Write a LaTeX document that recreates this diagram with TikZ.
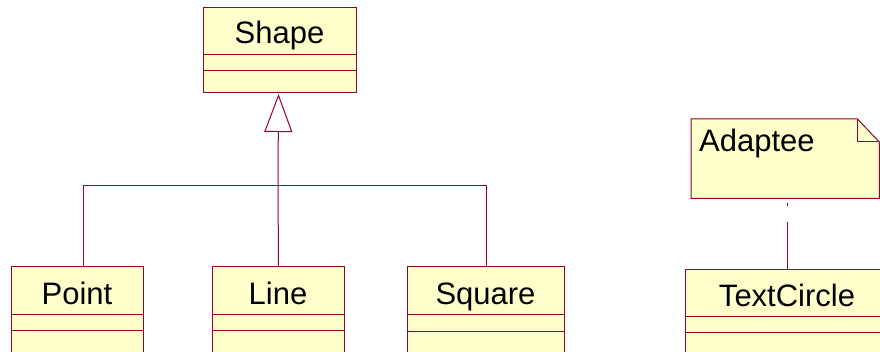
\documentclass[tikz,border=0pt]{standalone}
\usepackage{fontspec}
\setmainfont{Liberation Sans}
\usetikzlibrary{arrows.meta,calc}
\definecolor{lc}{RGB}{153,0,51}
\definecolor{fc}{RGB}{255,255,204}
\tikzset{
  cls/.style={draw=lc, fill=fc, line width=1pt, inner sep=0pt, anchor=north west},
  ttl/.style={font=\fontsize{31}{36}\selectfont, inner sep=0pt, anchor=base},
  comp/.style={draw=lc, line width=1pt},
  conn/.style={draw=lc, line width=1pt},
  inh/.style={conn, -{Triangle[open, length=38pt, width=28pt, line width=1pt]}},
}
\begin{document}
\begin{tikzpicture}[x=1pt,y=-1pt]
\useasboundingbox (0,0) rectangle (880,352);
% Shape
\node[cls, minimum width=153pt, minimum height=85pt] (shape) at (203,7) {};
\node[ttl] (shapeT) at (279.5,44) {Shape};
\draw[comp] (203,55) -- (356,55) (203,71) -- (356,71);
% Point
\node[cls, minimum width=132pt, minimum height=86pt] (point) at (11,266) {};
\node[ttl] (pointT) at (77,305) {Point};
\draw[comp] (11,315) -- (143,315) (11,330) -- (143,330);
% Line
\node[cls, minimum width=132pt, minimum height=86pt] (line) at (212,266) {};
\node[ttl] (lineT) at (278,305) {Line};
\draw[comp] (212,315) -- (344,315) (212,330) -- (344,330);
% Square
\node[cls, minimum width=157pt, minimum height=86pt] (square) at (407,266) {};
\node[ttl] (squareT) at (485.5,305) {Square};
\draw[comp] (407,315) -- (564,315) (407,331) -- (564,331);
% TextCircle
\node[cls, minimum width=204pt, minimum height=86pt] (tc) at (685,269) {};
\node[ttl] (tcT) at (787,307) {TextCircle};
\draw[comp] (685,317) -- (889,317) (685,332) -- (889,332);
% Note
\node[inner sep=0pt, minimum width=188pt, minimum height=79pt, anchor=north west] (adaptee) at (691,119) {};
\draw[conn, fill=fc] (adaptee.north west) -- ($(adaptee.north east)+(-22,0)$) -- ($(adaptee.north east)+(0,23)$) -- (adaptee.south east) -- (adaptee.south west) -- cycle;
\draw[conn] ($(adaptee.north east)+(-22,0)$) -- ($(adaptee.north east)+(-22,23)$) -- ($(adaptee.north east)+(0,23)$);
\node[font=\fontsize{31}{36}\selectfont, inner sep=0pt, anchor=base west] (adapteeT) at (699,152) {Adaptee};
% Inheritance
\coordinate (j) at (278,186);
\coordinate (pc) at (83,266);
\draw[conn] (pc) |- (j);
\draw[conn] (square.north) |- (j);
\draw[conn] (line.north) -- (j);
\draw[inh] (j) -- ($(shape.south)+(-1.5,1)$);
% Note link
\draw[conn, dash pattern=on 0pt off 5pt on 3pt off 16pt on 60pt] ($(adaptee.south west)+(96,0)$) -- ($(tc.north west)+(102,0)$);
\end{tikzpicture}
\end{document}
